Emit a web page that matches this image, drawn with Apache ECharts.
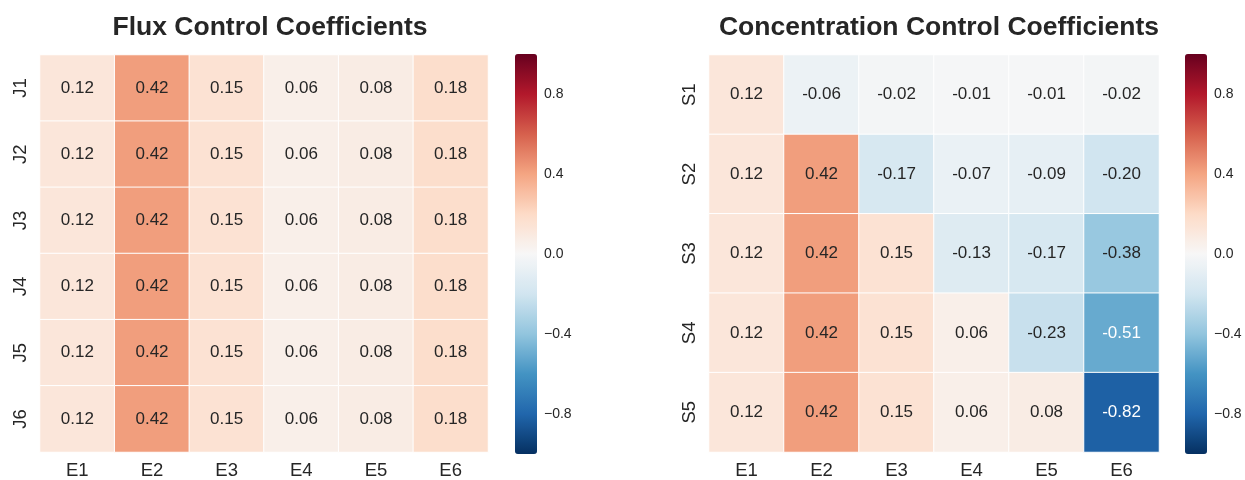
<!DOCTYPE html>
<html>
<head>
<meta charset="utf-8">
<script src="https://cdn.jsdelivr.net/npm/echarts@6/dist/echarts.min.js"></script>
<style>
  html, body { margin: 0; padding: 0; background: #fff; }
  #chart { width: 1245px; height: 480px; }
</style>
</head>
<body>
<div id="chart"></div>
<script>
// categories
var enzymes = ['E1', 'E2', 'E3', 'E4', 'E5', 'E6'];
var fluxes = ['J1', 'J2', 'J3', 'J4', 'J5', 'J6'];
var species = ['S1', 'S2', 'S3', 'S4', 'S5'];

// flux control coefficients, one row per flux
var fluxValues = [
    [0.12, 0.42, 0.15, 0.06, 0.08, 0.18],
    [0.12, 0.42, 0.15, 0.06, 0.08, 0.18],
    [0.12, 0.42, 0.15, 0.06, 0.08, 0.18],
    [0.12, 0.42, 0.15, 0.06, 0.08, 0.18],
    [0.12, 0.42, 0.15, 0.06, 0.08, 0.18],
    [0.12, 0.42, 0.15, 0.06, 0.08, 0.18]
];

// concentration control coefficients, one row per species
var concValues = [
    [0.12, -0.06, -0.02, -0.01, -0.01, -0.02],
    [0.12, 0.42, -0.17, -0.07, -0.09, -0.20],
    [0.12, 0.42, 0.15, -0.13, -0.17, -0.38],
    [0.12, 0.42, 0.15, 0.06, -0.23, -0.51],
    [0.12, 0.42, 0.15, 0.06, 0.08, -0.82]
];

var colorbarTicks = [-0.8, -0.4, 0, 0.4, 0.8];

// RdBu_r
var rdbu = ['#053061', '#2166ac', '#4393c3', '#92c5de', '#d1e5f0', '#f7f7f7',
            '#fddbc7', '#f4a582', '#d6604d', '#b2182b', '#67001f'];

var font = "'Liberation Sans', Arial, sans-serif";
var ink = '#262626';

function cells(rows) {
    var out = [];
    rows.forEach(function (row, r) {
        row.forEach(function (v, c) {
            out.push({
                value: [c, r, v],
                // dark cells get white text, like seaborn's annot
                label: { color: v < -0.45 ? '#ffffff' : ink }
            });
        });
    });
    return out;
}

function heatGrid(left, width) {
    return { left: left, top: 55, width: width, height: 399 };
}

function catX(idx) {
    return {
        type: 'category', gridIndex: idx, data: enzymes,
        axisLine: { show: false }, axisTick: { show: false }, splitArea: { show: false },
        axisLabel: { fontSize: 18.5, color: ink, fontFamily: font, margin: 9 }
    };
}

function catY(idx, names) {
    return {
        type: 'category', gridIndex: idx, data: names, inverse: true,
        axisLine: { show: false }, axisTick: { show: false },
        axisLabel: { fontSize: 18.5, color: ink, fontFamily: font, rotate: 90, margin: 10 }
    };
}

function barAxisX(idx) {
    return { type: 'value', gridIndex: idx, show: false, min: 0, max: 1 };
}

function barAxisY(idx) {
    return {
        type: 'value', gridIndex: idx, min: -1, max: 1, position: 'right',
        splitLine: { show: false }, axisLine: { show: false }, axisTick: { show: false },
        axisLabel: {
            customValues: colorbarTicks, fontSize: 14, color: ink, fontFamily: font, margin: 7,
            formatter: function (v) { return v.toFixed(1).replace('-', '\u2212'); }
        }
    };
}

function colorbar(seriesIndex, left) {
    return {
        type: 'continuous', seriesIndex: seriesIndex, min: -1, max: 1,
        calculable: false, realtime: false, hoverLink: false,
        left: left, top: 54, itemWidth: 22, itemHeight: 400, padding: 0,
        text: null, showLabel: false,
        inRange: { color: rdbu }
    };
}

function heatSeries(idx, rows) {
    return {
        type: 'heatmap', xAxisIndex: idx, yAxisIndex: idx,
        data: cells(rows),
        label: {
            show: true, fontSize: 17, fontFamily: font,
            formatter: function (p) { return p.value[2].toFixed(2); }
        },
        itemStyle: { borderColor: '#ffffff', borderWidth: 1 },
        emphasis: { disabled: true }
    };
}

var chart = echarts.init(document.getElementById('chart'), null, { renderer: 'canvas' });
chart.setOption({
    animation: false,
    backgroundColor: '#ffffff',
    title: [
        {
            text: 'Flux Control Coefficients', left: 265, top: 9, textAlign: 'center',
            textStyle: { fontSize: 26.5, fontWeight: 'bold', color: ink, fontFamily: font }
        },
        {
            text: 'Concentration Control Coefficients', left: 934, top: 9, textAlign: 'center',
            textStyle: { fontSize: 26.5, fontWeight: 'bold', color: ink, fontFamily: font }
        }
    ],
    grid: [
        heatGrid(40, 448),
        heatGrid(709, 450),
        { left: 515, top: 54, width: 22, height: 400 },
        { left: 1185, top: 54, width: 22, height: 400 }
    ],
    xAxis: [catX(0), catX(1), barAxisX(2), barAxisX(3)],
    yAxis: [catY(0, fluxes), catY(1, species), barAxisY(2), barAxisY(3)],
    visualMap: [colorbar(0, 515), colorbar(1, 1185)],
    series: [heatSeries(0, fluxValues), heatSeries(1, concValues)]
});
</script>
</body>
</html>
